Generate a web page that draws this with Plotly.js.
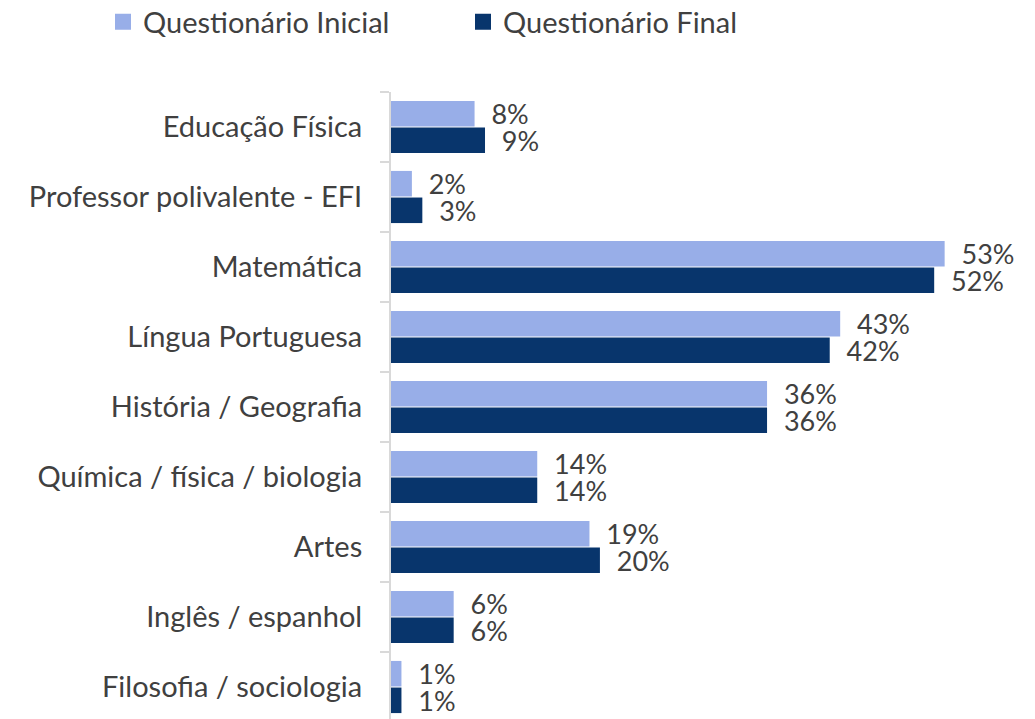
<!DOCTYPE html>
<html>
<head>
<meta charset="utf-8">
<script src="https://cdn.plot.ly/plotly-3.0.1.min.js"></script>
<style>html,body{margin:0;padding:0;background:#fff;}#chart{width:1035px;height:719px;}</style>
</head>
<body>
<div id="chart"></div>
<script>
const categories = ["Educação Física","Professor polivalente - EFI","Matemática","Língua Portuguesa","História / Geografia","Química / física / biologia","Artes","Inglês / espanhol","Filosofia / sociologia"];
const inicial = [8,2,53,43,36,14,19,6,1];
const final_ = [9,3,52,42,36,14,20,6,1];
const seriesNames = ["Questionário Inicial","Questionário Final"];
const colors = ['#98AEE8','#08356C'];

const pos = categories.map((c,i)=>i);
const font = "Lato, 'Open Sans', sans-serif";
function trace(vals, name, color){
  return {type:'bar', orientation:'h', x:vals, y:pos, name:name, showlegend:false,
    marker:{color:color},
    text: vals.map(v=>'\u00a0\u00a0'+v+'%'), textposition:'outside', cliponaxis:false, constraintext:'none',
    textfont:{family:font,size:27,color:'#404040'}, hoverinfo:'skip'};
}
function legendTrace(name, color, lg){
  return {type:'scatter', mode:'markers', x:[null], y:[null], name:name, showlegend:true, legend:lg,
    marker:{symbol:'square', size:17, color:color}, hoverinfo:'skip'};
}
const data=[trace(inicial,seriesNames[0],colors[0]), trace(final_,seriesNames[1],colors[1]),
  legendTrace(seriesNames[0],colors[0],'legend'), legendTrace(seriesNames[1],colors[1],'legend2')];
function legendCfg(xpx){
  return {orientation:'h',x:xpx/1035,xref:'container',y:1-22/719,yref:'container',yanchor:'middle',xanchor:'left',
    font:{family:font,size:29,color:'#404040'},itemwidth:30,bgcolor:'rgba(0,0,0,0)'};
}
const layout={
  width:1035,height:719,margin:{l:391,r:35,t:92,b:0},
  paper_bgcolor:'#fff',plot_bgcolor:'#fff',
  barmode:'group',bargap:0.24,bargroupgap:0.04,
  font:{family:font,color:'#404040'},
  showlegend:true,
  legend:legendCfg(103),
  legend2:legendCfg(463),
  xaxis:{range:[0,58.3],visible:false,fixedrange:true},
  yaxis:{range:[8.457,-0.5],tickmode:'array',tickvals:pos,ticktext:categories,
    ticks:'',showgrid:false,zeroline:false,showline:true,linecolor:'#D9D9D9',linewidth:2,
    ticklabelstandoff:21,tickfont:{family:font,size:29,color:'#404040'},
    minor:{tickmode:'linear',tick0:-0.5,dtick:1,ticks:'outside',ticklen:9,tickcolor:'#D9D9D9',tickwidth:2,showgrid:false}}
};
Plotly.newPlot('chart',data,layout,{staticPlot:true});
</script>
</body>
</html>
